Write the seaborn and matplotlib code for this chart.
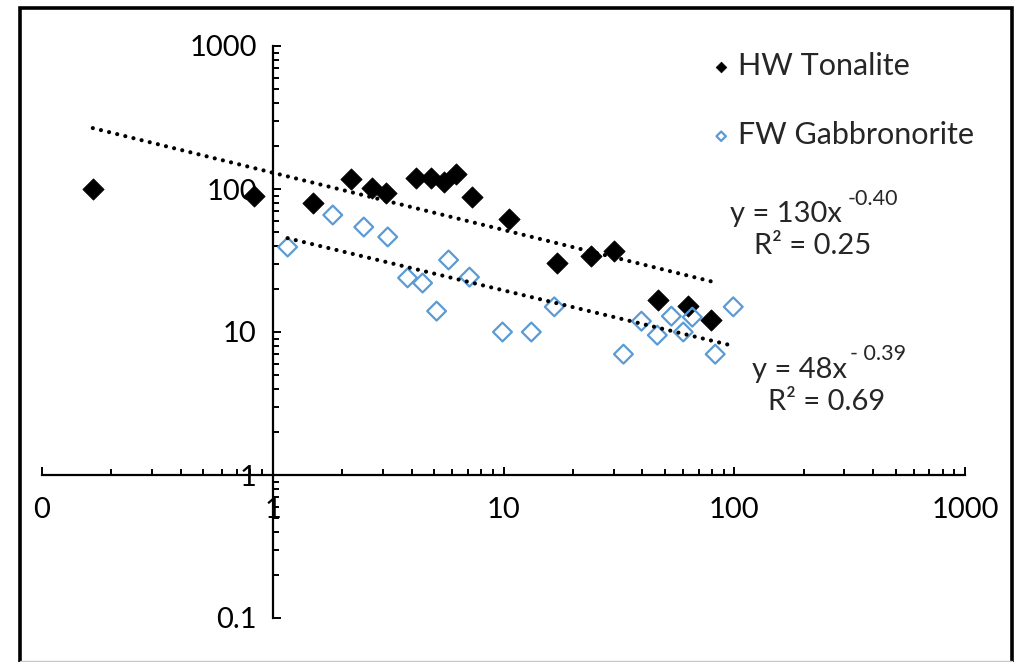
import numpy as np
import pandas as pd
import matplotlib
matplotlib.use("Agg")
import matplotlib.pyplot as plt
import matplotlib.ticker as mticker
from matplotlib.lines import Line2D
from matplotlib.patches import Rectangle
import seaborn as sns

# ---------------- data ----------------
hw_x = [0.166, 0.83, 1.49, 2.18, 2.68, 3.1, 4.16, 4.83, 5.5, 6.2, 7.27, 10.6,
        17.1, 24.0, 30.2, 46.9, 63.2, 79.5]
hw_y = [100, 89, 80, 117, 102, 94, 119, 119, 112, 127, 88, 62,
        30.4, 34, 36.8, 16.7, 15.2, 12.1]

fw_x = [1.16, 1.82, 2.48, 3.15, 3.84, 4.46, 5.13, 5.78, 7.12, 9.9, 13.2, 16.6,
        33.1, 39.6, 46.4, 53.4, 60.1, 65.8, 82.7, 99]
fw_y = [39.3, 65.8, 54.2, 46.2, 23.9, 22.0, 14.0, 31.9, 24.2, 10.0, 10.0, 15.0,
        7.0, 11.9, 9.5, 12.9, 10.0, 12.7, 7.0, 15.0]

series_names = ["HW Tonalite", "FW Gabbronorite"]
trend_coef = [130, 48]
trend_exp = [-0.40, -0.39]
trend_r2 = ["0.25", "0.69"]
trend_exp_text = ["-0.40", "- 0.39"]

x_ticks = [0.1, 1, 10, 100, 1000]
x_tick_labels = ["0", "1", "10", "100", "1000"]
y_ticks = [0.1, 1, 10, 100, 1000]
y_tick_labels = ["0.1", "1", "10", "100", "1000"]

hw = pd.DataFrame({"x": hw_x, "y": hw_y})
fw = pd.DataFrame({"x": fw_x, "y": fw_y})

# ---------------- style ----------------
sns.set_style("white")
plt.rcParams["font.family"] = ["Lato", "DejaVu Sans"]

W, H = 1015, 662
fig = plt.figure(figsize=(W / 100, H / 100), dpi=100)


def fx(px):
    return px / W


def fy(py):
    return 1 - py / H


ax = fig.add_axes([fx(42), fy(618), fx(965) - fx(42), fy(46) - fy(618)])
ax.set_xscale("log")
ax.set_yscale("log")
ax.set_xlim(0.1, 1000)
ax.set_ylim(0.1, 1000)

blue = "#5B9BD5"
sns.scatterplot(data=hw, x="x", y="y", ax=ax, marker="D", s=118, color="black",
                edgecolor="black", linewidth=0.5, label=series_names[0], zorder=3)
sns.scatterplot(data=fw, x="x", y="y", ax=ax, marker="D", s=92, fc="none",
                ec=blue, linewidth=1.6, label=series_names[1], zorder=3)

# power-law trend lines (coefficients as printed on the chart)
for xs, a, b in [(hw_x, trend_coef[0], trend_exp[0]), (fw_x, trend_coef[1], trend_exp[1])]:
    xx = np.geomspace(min(xs), max(xs), 200)
    ax.plot(xx, a * xx ** b, color="black", lw=3.0, linestyle=(0, (0.01, 2.0)),
            dash_capstyle="round", zorder=4)

# axes crossing at 1
ax.spines["left"].set_position(("data", 1))
ax.spines["bottom"].set_position(("data", 1))
ax.spines["top"].set_visible(False)
ax.spines["right"].set_visible(False)
for s in ["left", "bottom"]:
    ax.spines[s].set_linewidth(1.6)
    ax.spines[s].set_color("black")

ax.xaxis.set_major_locator(mticker.FixedLocator(x_ticks))
ax.xaxis.set_major_formatter(mticker.FixedFormatter(x_tick_labels))
ax.yaxis.set_major_locator(mticker.FixedLocator(y_ticks))
ax.yaxis.set_major_formatter(mticker.FixedFormatter(y_tick_labels))
ax.xaxis.set_minor_locator(mticker.LogLocator(base=10, subs=np.arange(2, 10)))
ax.yaxis.set_minor_locator(mticker.LogLocator(base=10, subs=np.arange(2, 10)))
ax.xaxis.set_minor_formatter(mticker.NullFormatter())
ax.yaxis.set_minor_formatter(mticker.NullFormatter())
ax.tick_params(axis="both", which="both", direction="in", color="black",
               width=1.4, labelsize=21, labelcolor="black")
ax.tick_params(axis="both", which="major", length=6)
ax.tick_params(axis="both", which="minor", length=4.5)
ax.tick_params(axis="y", which="both", left=True, pad=11.5)
ax.tick_params(axis="x", which="both", bottom=True, pad=16)
ax.set_xlabel("")
ax.set_ylabel("")
ax.patch.set_alpha(0)

leg = ax.legend(loc="upper left", bbox_to_anchor=(fx(712), fy(52)),
                bbox_transform=fig.transFigure, frameon=False, fontsize=22,
                handlelength=0.6, handletextpad=0.25, borderpad=0,
                borderaxespad=0, labelspacing=1.35, markerscale=0.5)

# equation labels
eq_size = 21
fig.text(fx(730), fy(222), "y = %dx" % trend_coef[0], fontsize=eq_size, va="baseline")
fig.text(fx(848), fy(205), trend_exp_text[0], fontsize=15.5, va="baseline")
fig.text(fx(754), fy(254), "R² = " + trend_r2[0], fontsize=eq_size, va="baseline")
fig.text(fx(752), fy(378), "y = %dx" % trend_coef[1], fontsize=eq_size, va="baseline")
fig.text(fx(850), fy(360), trend_exp_text[1], fontsize=15.5, va="baseline")
fig.text(fx(768), fy(410), "R² = " + trend_r2[1], fontsize=eq_size, va="baseline")

# outer frame
fig.add_artist(Rectangle((fx(20), -0.02), fx(1012) - fx(20), fy(8) + 0.02,
                         transform=fig.transFigure, fill=False, lw=2.6,
                         edgecolor="black"))
fig.add_artist(Line2D([fx(20), fx(1012)], [fy(661), fy(661)],
                      transform=fig.transFigure, color="#c8c8c8", lw=1))

fig.savefig("out.png", dpi=100)
